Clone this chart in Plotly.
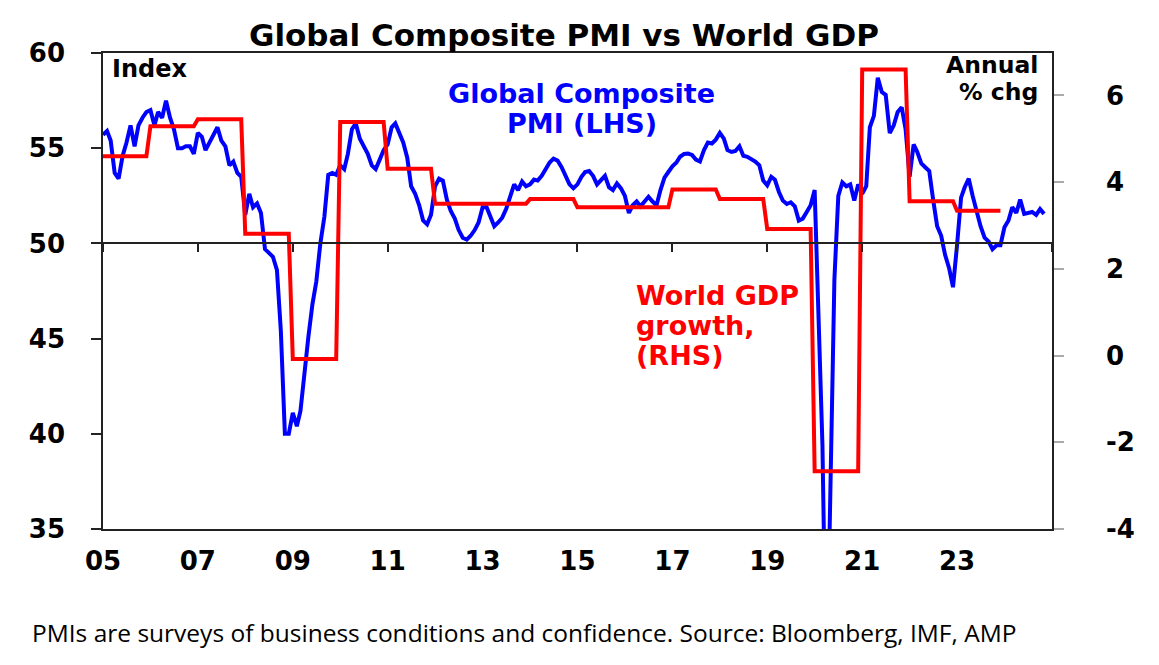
import numpy as np
import pandas as pd
import plotly.graph_objects as go

# ─── data ────────────────────────────────────────────────────────────
# global composite PMI, monthly from Jan 2005
pmi_2005 = [55.7, 55.9, 55.4, 53.7, 53.4, 54.6, 55.3, 56.2, 55.1, 56.2, 56.6, 56.9]
pmi_2006 = [57.0, 56.2, 56.9, 56.6, 57.5, 56.6, 56.0, 55.0, 55.0, 55.1, 55.1, 54.7]
pmi_2007 = [55.8, 55.6, 54.9, 55.3, 55.7, 56.1, 55.4, 55.1, 54.1, 54.3, 53.7, 53.5]
pmi_2008 = [51.5, 52.6, 51.9, 52.1, 51.6, 49.7, 49.5, 49.3, 48.6, 45.4, 40.0, 40.0]
pmi_2009 = [41.1, 40.4, 41.2, 43.3, 45.1, 46.8, 48.0, 50.0, 51.4, 53.6, 53.7, 53.6]
pmi_2010 = [54.1, 53.9, 54.7, 56.0, 56.3, 55.5, 55.1, 54.7, 54.1, 53.9, 54.4, 54.9]
pmi_2011 = [55.2, 56.1, 56.3, 55.8, 55.3, 54.5, 53.0, 52.6, 52.0, 51.2, 51.0, 51.5]
pmi_2012 = [53.0, 53.4, 53.3, 52.3, 51.7, 51.3, 50.7, 50.3, 50.2, 50.4, 50.7, 51.1]
pmi_2013 = [51.9, 51.9, 51.4, 50.9, 51.1, 51.35, 51.8, 52.5, 53.1, 52.8, 53.25, 53.0]
pmi_2014 = [53.1, 53.35, 53.3, 53.55, 53.9, 54.25, 54.45, 54.35, 54.0, 53.55, 53.1, 52.9]
pmi_2015 = [53.1, 53.5, 53.75, 53.8, 53.55, 53.1, 53.35, 53.55, 52.95, 52.8, 53.15, 52.9]
pmi_2016 = [52.5, 51.6, 52.0, 52.2, 51.95, 52.2, 52.45, 52.2, 52.0, 52.8, 53.45, 53.75]
pmi_2017 = [54.05, 54.25, 54.55, 54.7, 54.72, 54.65, 54.4, 54.3, 54.9, 55.3, 55.25, 55.45]
pmi_2018 = [55.8, 55.5, 54.9, 54.8, 54.85, 55.1, 54.6, 54.55, 54.45, 54.3, 54.1, 53.3]
pmi_2019 = [53.05, 53.5, 53.35, 52.7, 52.25, 52.07, 52.16, 51.95, 51.2, 51.3, 51.65, 52.0]
pmi_2020 = [52.8, 46.1, 39.4, 26.2, 36.3, 48.1, 52.5, 53.2, 53.0, 53.1, 52.25, 53.1]
pmi_2021 = [52.6, 53.0, 56.1, 56.7, 58.7, 57.95, 57.8, 55.8, 56.2, 56.9, 57.15, 56.0]
pmi_2022 = [53.5, 55.2, 54.8, 54.2, 54.0, 53.8, 52.3, 50.9, 50.4, 49.4, 48.7, 47.7]
pmi_2023 = [49.9, 52.4, 52.95, 53.4, 52.5, 51.6, 50.9, 50.3, 50.1, 49.7, 49.9, 49.9]
pmi_2024 = [50.85, 51.2, 51.9, 51.6, 52.3, 51.55, 51.6, 51.65, 51.5, 51.8, 51.55]

pmi = (pmi_2005 + pmi_2006 + pmi_2007 + pmi_2008 + pmi_2009 + pmi_2010 + pmi_2011
       + pmi_2012 + pmi_2013 + pmi_2014 + pmi_2015 + pmi_2016 + pmi_2017 + pmi_2018
       + pmi_2019 + pmi_2020 + pmi_2021 + pmi_2022 + pmi_2023 + pmi_2024)
pmi_dates = pd.date_range("2005-01-01", periods=len(pmi), freq="MS")

# world GDP growth, annual % chg (IMF)
gdp_years = list(range(2005, 2024))
gdp_growth = [4.60, 5.29, 5.45, 2.81, -0.08, 5.39, 4.31, 3.50, 3.50, 3.61,
              3.42, 3.42, 3.83, 3.61, 2.92, -2.67, 6.60, 3.56, 3.34]

# each year's figure held flat Jan..Dec, as on the chart
gdp_dates = pd.date_range(f"{gdp_years[0]}-01-01", periods=12 * len(gdp_years), freq="MS")
gdp_monthly = np.repeat(gdp_growth, 12)

# axis ticks
x_tick_years = [2005, 2007, 2009, 2011, 2013, 2015, 2017, 2019, 2021, 2023]
x_tick_labels = ["05", "07", "09", "11", "13", "15", "17", "19", "21", "23"]
rhs_ticks = [-4, -2, 0, 2, 4, 6]
# trailing no-break space keeps the digits lined up with the minus signs
rhs_labels = ["-4", "-2", "0\u00a0", "2\u00a0", "4\u00a0", "6\u00a0"]

# ─── geometry: page pixels (body has an 8px margin) ──────────────────
PAD = 8
W, H = 1159 - 2 * PAD, 665 - 2 * PAD
plot_l, plot_r, plot_t, plot_b = 102.7, 1052.3, 52.7, 528.7   # page px
L = plot_l - PAD
T = plot_t - PAD
R = W - (plot_r - PAD)
B = H - (plot_b - PAD)


def px_x(px):
    return (px - plot_l) / (plot_r - plot_l)


def px_y(py):
    return (plot_b - py) / (plot_b - plot_t)


BOLD = "DejaVu Sans"
BLUE, RED = "#0000ff", "#ff0000"
x_range = ["2005-01-01", "2025-01-01"]

fig = go.Figure()

fig.add_trace(go.Scatter(
    x=pmi_dates, y=pmi, mode="lines", name="Global Composite PMI",
    line=dict(color=BLUE, width=4), xaxis="x", yaxis="y",
))
fig.add_trace(go.Scatter(
    x=gdp_dates, y=gdp_monthly, mode="lines", name="World GDP growth",
    line=dict(color=RED, width=4), xaxis="x2", yaxis="y2",
))

tick_font = dict(family=BOLD, size=26, color="black", weight="bold")

fig.update_layout(
    width=W, height=H,
    margin=dict(l=L, r=R, t=T, b=B, autoexpand=False),
    paper_bgcolor="white", plot_bgcolor="white",
    showlegend=False,
    xaxis=dict(
        range=x_range, type="date",
        tickvals=[f"{y}-01-01" for y in x_tick_years], ticktext=x_tick_labels,
        showgrid=False, zeroline=False,
        showline=True, mirror=True, linecolor="#222", linewidth=1.5,
        ticks="outside", ticklen=8, tickcolor="rgba(0,0,0,0)",
        tickfont=tick_font,
    ),
    xaxis2=dict(
        range=x_range, type="date", dtick="M24", tick0="2005-01-01",
        overlaying="x", anchor="free", position=0.6,
        showgrid=False, zeroline=False, showticklabels=False,
        showline=True, linecolor="#222", linewidth=1.5,
        ticks="outside", ticklen=8, tickcolor="#222", tickwidth=1.5,
    ),
    yaxis=dict(
        range=[35, 60], dtick=5, showgrid=False, zeroline=False,
        showline=True, linecolor="#222", linewidth=1.5,
        ticks="outside", ticklen=10, tickcolor="#222", tickwidth=1.5,
        tickfont=tick_font, ticklabelstandoff=21,
    ),
    yaxis2=dict(
        range=[-4, 6.98], tickvals=rhs_ticks, ticktext=rhs_labels,
        overlaying="y", side="right", anchor="x",
        showgrid=False, zeroline=False,
        showline=True, linecolor="#222", linewidth=1.5,
        ticks="outside", ticklen=10, tickcolor="#aaaaaa", tickwidth=1.5,
        tickfont=tick_font, ticklabelstandoff=37,
    ),
)

# ─── texts (positions in page pixels) ────────────────────────────────
notes = [
    ("Global Composite PMI vs World GDP", 564, 35, "center", 31, "black", BOLD, "bold"),
    ("Index", 110, 69, "left", 24, "black", BOLD, "bold"),
    ("Annual", 1040, 65, "right", 23.5, "black", BOLD, "bold"),
    ("% chg", 1040, 92, "right", 23.5, "black", BOLD, "bold"),
    ("Global Composite", 582, 93, "center", 27, BLUE, BOLD, "bold"),
    ("PMI (LHS)", 582, 123, "center", 27, BLUE, BOLD, "bold"),
    ("World GDP", 634, 295, "left", 27, RED, BOLD, "bold"),
    ("growth,", 634, 325, "left", 27, RED, BOLD, "bold"),
    ("(RHS)", 634, 355, "left", 27, RED, BOLD, "bold"),
    ("PMIs are surveys of business conditions and confidence. Source: Bloomberg, IMF, AMP",
     30, 632, "left", 24.5, "black", "Open Sans", "normal"),
]
for text, x, y, anchor, size, color, family, weight in notes:
    fig.add_annotation(
        text=text, xref="paper", yref="paper", x=px_x(x), y=px_y(y),
        xanchor=anchor, yanchor="middle", showarrow=False,
        font=dict(family=family, size=size, color=color, weight=weight),
    )

fig.write_html("out.html")
